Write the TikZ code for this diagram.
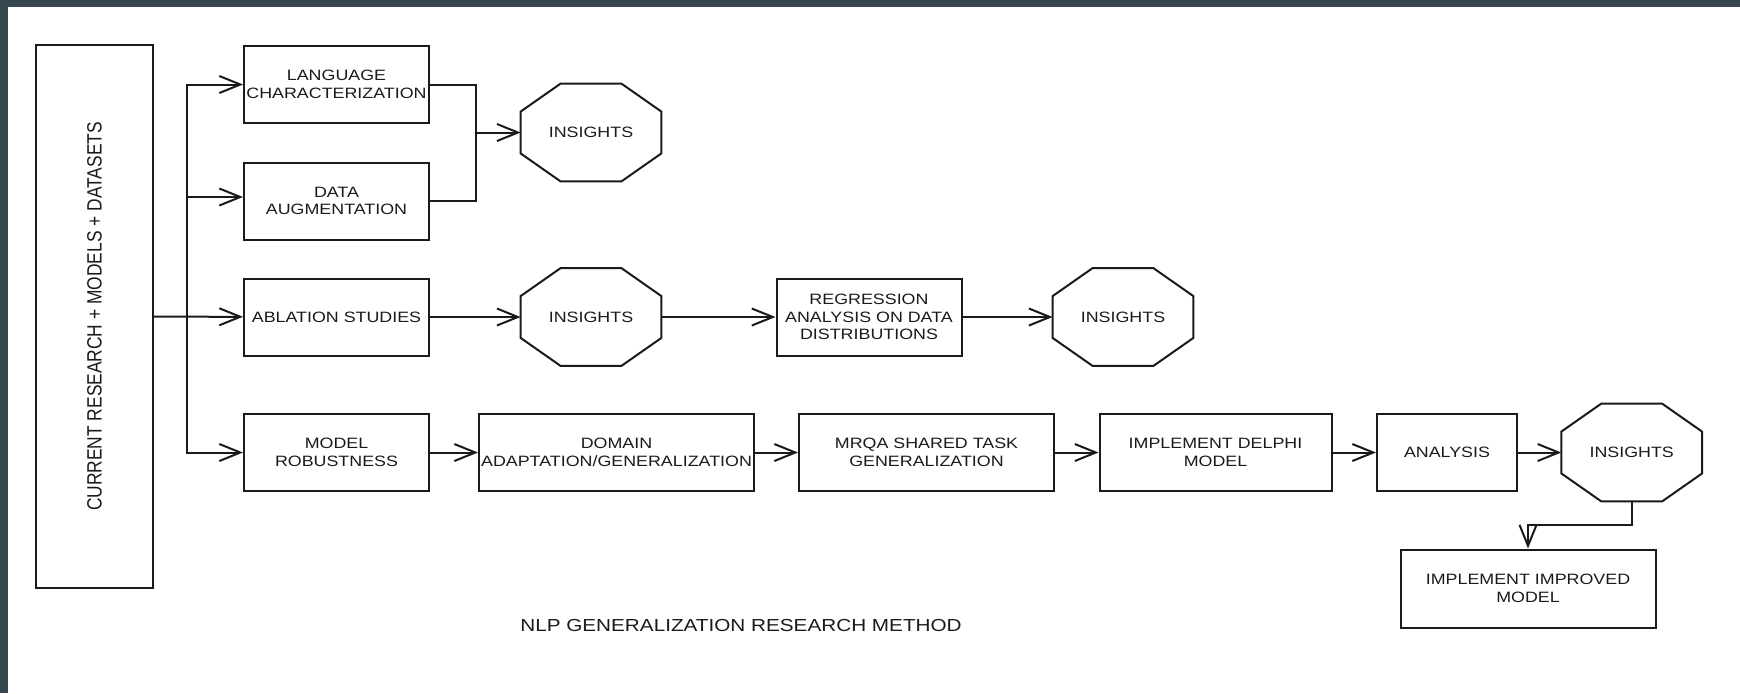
\documentclass[tikz,border=0pt]{standalone}
\usepackage{fontspec}
\usepackage{tikz}
\usetikzlibrary{arrows.meta}
\newfontfamily\boxfont[FakeStretch=1.19]{Liberation Sans}
\newfontfamily\sidefont[FakeStretch=0.84]{Liberation Sans}
\definecolor{framecolor}{HTML}{37474F}
\definecolor{inkcolor}{HTML}{1A1A1A}

\begin{document}
\begin{tikzpicture}[x=0.5pt, y=-0.5pt,
    stage/.style={rectangle, draw=inkcolor, line width=1pt, minimum width=#1, minimum height=38.5pt, inner sep=0pt, align=center, text=inkcolor, font=\boxfont\fontsize{7.5}{8.85}\selectfont},
    stage/.default=92.5pt,
    insight/.style={rectangle, minimum width=70pt, minimum height=48.5pt, inner sep=0pt, text=inkcolor, font=\boxfont\fontsize{7.5}{8.85}\selectfont},
    link/.style={draw=inkcolor, line width=1pt},
    arrow/.style={link, -{Straight Barb[length=10.5pt, width=8.5pt]}}
]
\useasboundingbox (0,0) rectangle (1740,693);

% Dark frame on top and left
\fill[framecolor] (0,0) rectangle (1740,7);
\fill[framecolor] (0,0) rectangle (8,693);

% Source column
\node[stage=271.5pt, minimum height=58.5pt, rotate=90, font=\sidefont\fontsize{10.35}{12}\selectfont] (research) at (94.5,316.5) {CURRENT RESEARCH + MODELS + DATASETS};

% First stages
\node[stage] (lang) at (336.5,84.5) {LANGUAGE\\CHARACTERIZATION};
\node[stage] (augment) at (336.5,201) {DATA\\AUGMENTATION};
\node[stage] (ablation) at (336.5,317) {ABLATION STUDIES};
\node[stage] (robust) at (336.5,452.5) {MODEL\\ROBUSTNESS};

% Insights
\node[insight] (insA) at (591,132.5) {INSIGHTS};
\node[insight] (insB) at (591,317) {INSIGHTS};
\node[insight] (insC) at (1123,317) {INSIGHTS};
\node[insight] (insD) at (1631.7,452.5) {INSIGHTS};
\foreach \n in {insA, insB, insC, insD}
  \draw[inkcolor, line width=1pt] ([xshift=20pt]\n.north west) -- ([xshift=-20pt]\n.north east)
    -- ([yshift=-14pt]\n.north east) -- ([yshift=14pt]\n.south east)
    -- ([xshift=-20pt]\n.south east) -- ([xshift=20pt]\n.south west)
    -- ([yshift=14pt]\n.south west) -- ([yshift=-14pt]\n.north west) -- cycle;

% Ablation row
\node[stage] (regress) at (869,317) {REGRESSION\\ANALYSIS ON DATA\\DISTRIBUTIONS};

% Robustness row
\node[stage=137.5pt] (domain) at (616.5,452.5) {DOMAIN\\ADAPTATION/GENERALIZATION};
\node[stage=127.5pt] (mrqa) at (926.5,452.5) {MRQA SHARED TASK\\GENERALIZATION};
\node[stage=116pt] (delphi) at (1215.5,452.5) {IMPLEMENT DELPHI\\MODEL};
\node[stage=70pt] (analysis) at (1447,452.5) {ANALYSIS};
\node[stage=127.5pt, minimum height=39pt] (improved) at (1528,588.5) {IMPLEMENT IMPROVED\\MODEL};

% Title
\node[text=inkcolor, font=\boxfont\fontsize{8.7}{10}\selectfont] (title) at (741,625) {NLP GENERALIZATION RESEARCH METHOD};

% Connections - source
\coordinate (split) at (186.5,317);
\draw[arrow] (research) -- (ablation);
\draw[arrow] (split) |- (lang);
\draw[arrow] (split) |- ([yshift=2pt]augment.west);
\draw[arrow] (split) |- (robust);

% Connections - merge into insights
\coordinate (merge) at (476,132.5);
\draw[link] (lang) -| (merge) |- (augment);
\draw[arrow] (merge) -- (insA);

% Connections - ablation row
\draw[arrow] (ablation) -- (insB);
\draw[arrow] (insB) -- (regress);
\draw[arrow] (regress) -- (insC);

% Connections - robustness row
\draw[arrow] (robust) -- (domain);
\draw[arrow] (domain) -- (mrqa);
\draw[arrow] (mrqa) -- (delphi);
\draw[arrow] (delphi) -- (analysis);
\draw[arrow] (analysis) -- (insD);
\draw[arrow] (insD.south) -- ++(0,24) -| (improved.north);
\end{tikzpicture}
\end{document}
